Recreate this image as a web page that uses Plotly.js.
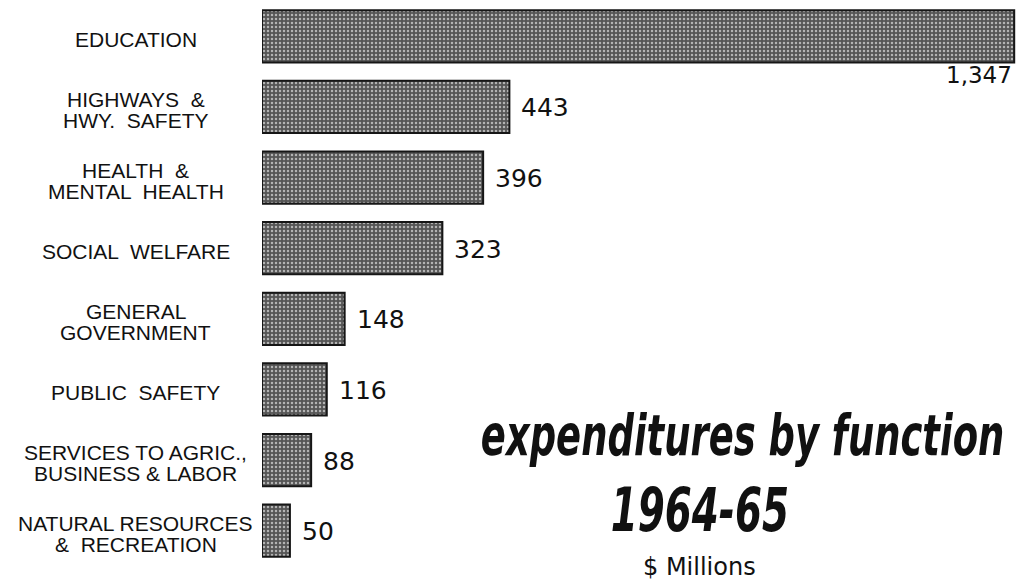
<!DOCTYPE html>
<html>
<head>
<meta charset="utf-8">
<script src="https://cdn.plot.ly/plotly-3.0.1.min.js"></script>
<style>
  html, body { margin: 0; padding: 0; background: #fff; }
  #graphDiv { width: 1017px; height: 582px; }
</style>
</head>
<body>
<div id="graphDiv"></div>
<script>
var categories = ['EDUCATION', 'HIGHWAYS  &<br>HWY.  SAFETY', 'HEALTH  &<br>MENTAL  HEALTH', 'SOCIAL  WELFARE',
                  'GENERAL<br>GOVERNMENT', 'PUBLIC  SAFETY', 'SERVICES TO AGRIC.,<br>BUSINESS & LABOR',
                  'NATURAL RESOURCES<br>&  RECREATION'];
var values = [1347, 443, 396, 323, 148, 116, 88, 50];
var valueLabels = ['1,347', '443', '396', '323', '148', '116', '88', '50'];
var titleLines = ['expenditures by function', '1964-65'];
var unitLabel = '$ Millions';

var labelFont = "'Liberation Sans', Arial, sans-serif";
var numFont = "'DejaVu Sans', sans-serif";
var titleFont = "'DejaVu Sans Condensed', 'DejaVu Sans', sans-serif";

var trace = {
    type: 'bar',
    orientation: 'h',
    x: values,
    y: categories,
    width: 0.74,
    marker: {
        color: '#5e5e5e',
        line: {color: '#161616', width: 2},
        pattern: {shape: '.', fgcolor: '#b4b4b4', bgcolor: '#555555', size: 4, solidity: 0.3}
    },
    hoverinfo: 'none'
};

var annotations = [];
categories.forEach(function (c, i) {
    // category labels, one annotation per line so the lines sit close together
    var lines = c.split('<br>');
    lines.forEach(function (ln, k) {
        annotations.push({
            xref: 'paper', yref: 'y', x: -0.167, y: c,
            text: ln, showarrow: false, xanchor: 'center', yanchor: 'middle',
            yshift: ((lines.length - 1) / 2 - k) * 21 - 3,
            font: {family: labelFont, size: 21, color: '#111'}
        });
    });
    // value labels
    if (i === 0) {
        annotations.push({
            xref: 'x', yref: 'y', x: values[i], y: c,
            text: valueLabels[i], showarrow: false, xanchor: 'right', yanchor: 'middle',
            xshift: 0, yshift: -39, font: {family: numFont, size: 23, color: '#111'}
        });
    } else {
        annotations.push({
            xref: 'x', yref: 'y', x: values[i], y: c,
            text: valueLabels[i], showarrow: false, xanchor: 'left', yanchor: 'middle',
            xshift: 10, yshift: -1, font: {family: numFont, size: 25, color: '#111'}
        });
    }
});

var titleStart = annotations.length;
annotations.push({
    xref: 'paper', yref: 'paper', x: 0.636, y: 0.232,
    text: '<b><i>' + titleLines[0] + '</i></b>', showarrow: false,
    xanchor: 'center', yanchor: 'middle',
    font: {family: titleFont, size: 57, color: '#111'}
});
annotations.push({
    xref: 'paper', yref: 'paper', x: 0.58, y: 0.100,
    text: '<b><i>' + titleLines[1] + '</i></b>', showarrow: false,
    xanchor: 'center', yanchor: 'middle',
    font: {family: titleFont, size: 60, color: '#111'}
});
annotations.push({
    xref: 'paper', yref: 'paper', x: 0.58, y: -0.002,
    text: unitLabel, showarrow: false,
    xanchor: 'center', yanchor: 'middle',
    font: {family: numFont, size: 24, color: '#111'}
});

var layout = {
    width: 1017,
    height: 582,
    margin: {l: 262, r: 0, t: 1, b: 16},
    paper_bgcolor: '#fff',
    plot_bgcolor: '#fff',
    showlegend: false,
    xaxis: {range: [0, 1352], visible: false, fixedrange: true},
    yaxis: {range: [7.5, -0.5], autorange: false, visible: false, fixedrange: true},
    annotations: annotations
};

Plotly.newPlot('graphDiv', [trace], layout, {displayModeBar: false, staticPlot: true}).then(function (gd) {
    // squeeze the two title lines horizontally to mimic the condensed italic face
    [titleStart, titleStart + 1].forEach(function (idx) {
        var t = gd.querySelector('.annotation[data-index="' + idx + '"] text.annotation-text');
        if (!t) return;
        var bb = t.getBBox();
        var cx = bb.x + bb.width / 2;
        t.setAttribute('transform', 'translate(' + cx + ',0) scale(0.72,1) translate(' + (-cx) + ',0)');
    });
});
</script>
</body>
</html>
